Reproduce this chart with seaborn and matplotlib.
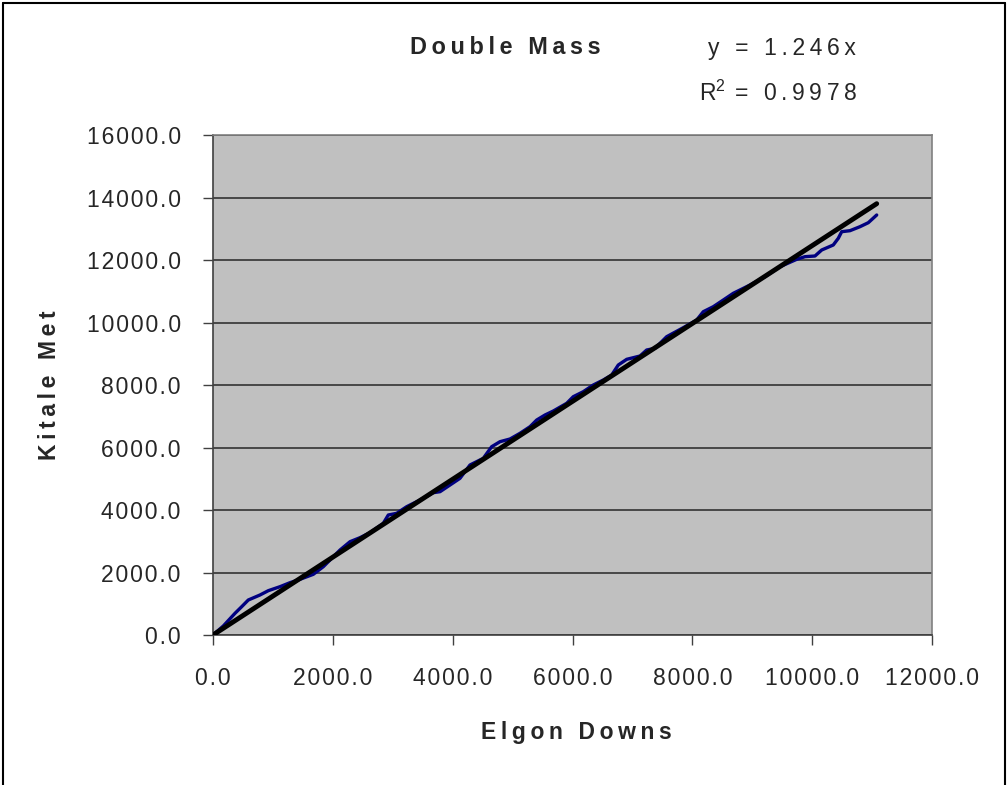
import numpy as np
import pandas as pd
import matplotlib
matplotlib.use("Agg")
import matplotlib.pyplot as plt
from matplotlib.lines import Line2D
import seaborn as sns

# Cumulative rainfall (double mass)
elgon_downs = [0, 172, 367, 479, 589, 784, 923, 1118, 1285, 1452, 1674, 1841,
               2120, 2287, 2453, 2620, 2842, 2926, 3066, 3233, 3455, 3677, 3789,
               4122, 4289, 4511, 4651, 4790, 4957, 5124, 5291, 5403, 5541, 5680,
               5903, 6013, 6180, 6347, 6514, 6654, 6764, 6905, 7127, 7238, 7377,
               7572, 7849, 8073, 8183, 8350, 8517, 8683, 8795, 8962, 9213, 9463,
               9742, 9880, 10047, 10159, 10352, 10436, 10493, 10631, 10798,
               10937, 11077]
kitale_met = [0, 288, 694, 906, 1120, 1280, 1418, 1546, 1674, 1782, 1942, 2186,
              2720, 2986, 3114, 3274, 3574, 3840, 3894, 4106, 4320, 4554, 4586,
              5014, 5440, 5654, 6026, 6186, 6272, 6454, 6666, 6880, 7040, 7168,
              7414, 7626, 7786, 8000, 8160, 8320, 8640, 8822, 8928, 9120, 9174,
              9546, 9834, 10080, 10346, 10506, 10720, 10934, 11040, 11200, 11466,
              11786, 12022, 12106, 12128, 12320, 12480, 12694, 12906, 12938,
              13066, 13194, 13440]
trend_slope = 1.246
r_squared = 0.9978
x_ticks = [0, 2000, 4000, 6000, 8000, 10000, 12000]
y_ticks = [0, 2000, 4000, 6000, 8000, 10000, 12000, 14000, 16000]

sns.set_theme(style="white")
plt.rcParams['font.family'] = ['Liberation Sans', 'DejaVu Sans']
plt.rcParams['mathtext.fontset'] = 'custom'
plt.rcParams['mathtext.rm'] = 'Liberation Sans'
plt.rcParams['mathtext.it'] = 'Liberation Sans'
plt.rcParams['mathtext.bf'] = 'Liberation Sans:bold'

THIN = "\u2009"
HAIR = "\u200a"


def spaced(s, sep):
    return sep.join(s)


df = pd.DataFrame({"x": elgon_downs, "y": kitale_met})
xmax = max(elgon_downs)
trend = pd.DataFrame({"x": [0, xmax], "y": [0, trend_slope * xmax]})

fig = plt.figure(figsize=(10.08, 7.85), dpi=100)
ax = fig.add_axes([213/1008, 1 - 635/785, 719/1008, 500/785])
ax.set_facecolor("#C0C0C0")

sns.lineplot(data=df, x="x", y="y", sort=False, ax=ax, color="#000080",
             linewidth=2.4, zorder=3)
sns.lineplot(data=trend, x="x", y="y", sort=False, ax=ax, color="black",
             linewidth=3.5, zorder=4)

ax.set_xlim(0, 12000)
ax.set_ylim(0, 16000)
ax.set_xticks(x_ticks)
ax.set_yticks(y_ticks)
ax.set_xticklabels([spaced(f"{v:.1f}", HAIR) for v in x_ticks])
ax.set_yticklabels([spaced(f"{v:.1f}", HAIR) for v in y_ticks])
ax.tick_params(axis="both", direction="out", length=7.2, width=1, color="#404040",
               labelsize=16.5, pad=16, bottom=True, left=True)
ax.yaxis.grid(True, color="#333333", linewidth=1.2)
ax.xaxis.grid(False)
ax.set_axisbelow(True)
for side in ["left", "bottom"]:
    ax.spines[side].set_color("#404040")
    ax.spines[side].set_linewidth(1.2)
for side in ["right", "top"]:
    ax.spines[side].set_color("#808080")
    ax.spines[side].set_linewidth(1.2)

ax.set_xlabel("")
ax.set_ylabel("")
fig.text(576/1008, 1 - 733/785, spaced("Elgon Downs", THIN), fontsize=16.5,
         fontweight="bold", ha="center", va="center")
fig.text(50/1008, 1 - 385/785, spaced("Kitale Met", THIN), fontsize=16.5,
         fontweight="bold", ha="center", va="center", rotation=90)

fig.text(505/1008, 1 - 47/785, spaced("Double Mass", THIN), fontsize=16.8,
         fontweight="bold", ha="center", va="center")
fig.text(708/1008, 1 - 48/785, spaced(f"y = {trend_slope}x", THIN), fontsize=16.5,
         ha="left", va="center")
fig.text(699/1008, 1 - 93/785,
         "R$^{2}$" + THIN + THIN + spaced(f"= {r_squared}", THIN), fontsize=16.5,
         ha="left", va="center")

# outer chart border
for xs, ys in [([3/1008, 3/1008], [0, 1 - 3/785]),
               ([3/1008, 1005/1008], [1 - 3/785, 1 - 3/785]),
               ([1005/1008, 1005/1008], [0, 1 - 3/785])]:
    fig.add_artist(Line2D(xs, ys, color="black", linewidth=1.5))

fig.savefig("out.png", dpi=100)
